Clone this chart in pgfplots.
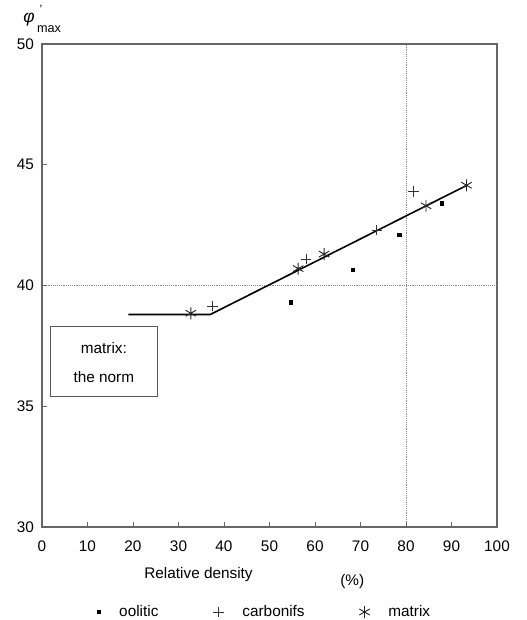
\documentclass[border=0pt]{standalone}
\usepackage{pgfplots}
\pgfplotsset{compat=1.18}
\usepackage{fontspec}
\setmainfont{Liberation Sans}
\begin{document}
\fontsize{11.5}{13.8}\selectfont
\begin{tikzpicture}
\path[use as bounding box] (-31.5pt,-69.75pt) rectangle (363pt,395.25pt);
\begin{axis}[
 at={(0,0)}, anchor=south west, scale only axis,
 width=341.25pt, height=362.25pt,
 xmin=0, xmax=100, ymin=30, ymax=50,
 xtick={0,10,...,100}, ytick={30,35,...,50},
 tick pos=left, tick align=inside, major tick length=4pt,
 tick style={black!60, line width=0.6pt},
 axis line style={black!60, line width=1.3pt},
 /pgf/number format/assume math mode=true,
 ticklabel style={font=\fontsize{11.5}{13.8}\selectfont},
 xticklabel style={yshift=-6.5pt},
 yticklabel style={xshift=-2pt},
 extra x ticks={80}, extra x tick labels={},
 extra y ticks={40}, extra y tick labels={},
 extra tick style={grid=major, major grid style={black!45, densely dotted, line width=0.6pt}},
 clip=false,
 legend columns=3,
 legend style={at={(0.49,-0.176)}, anchor=center, draw=none, fill=none,
   font=\fontsize{11.5}{13.8}\selectfont,
   /tikz/every odd column/.append style={column sep=12pt},
   /tikz/every even column/.append style={column sep=39pt}},
]
\addplot[black, line width=1.2pt, forget plot] coordinates {(19,38.8) (37,38.8) (93.4,44.15)};
\addplot[only marks, mark=square*, mark size=1.3pt, black] coordinates {
 (54.7,39.3) (68.3,40.65) (78.5,42.1) (87.9,43.4)};
\addlegendentry{oolitic}
\addplot[only marks, mark=+, mark size=4pt, black!80, mark options={line width=0.6pt}] coordinates {
 (37.5,39.15) (58,41.1) (73.6,42.3) (81.7,43.9)};
\addlegendentry{carbonifs}
\addplot[only marks, mark=asterisk, mark size=4.5pt, black!85, mark options={line width=0.7pt}] coordinates {
 (32.7,38.85) (56.3,40.7) (62,41.3) (84.4,43.3) (93.3,44.15)};
\addlegendentry{matrix}
\draw[fill=white, draw=black!65, line width=0.8pt] (axis cs:1.8,35.4) rectangle (axis cs:25.3,38.3);
\node at (axis cs:13.6,37.43) {matrix:};
\node at (axis cs:13.6,36.2) {the norm};
\node at (axis cs:34.4,28.02) {Relative density};
\node at (axis cs:68.2,27.75) {(\%)};
\node at (axis cs:-2.86,50.99) {\fontsize{13}{15}\selectfont\itshape φ};
\node at (axis cs:-0.22,51.45) {\fontsize{9}{10}\selectfont '};
\node at (axis cs:1.54,50.62) {\fontsize{9.5}{11}\selectfont max};
\end{axis}
\end{tikzpicture}
\end{document}
